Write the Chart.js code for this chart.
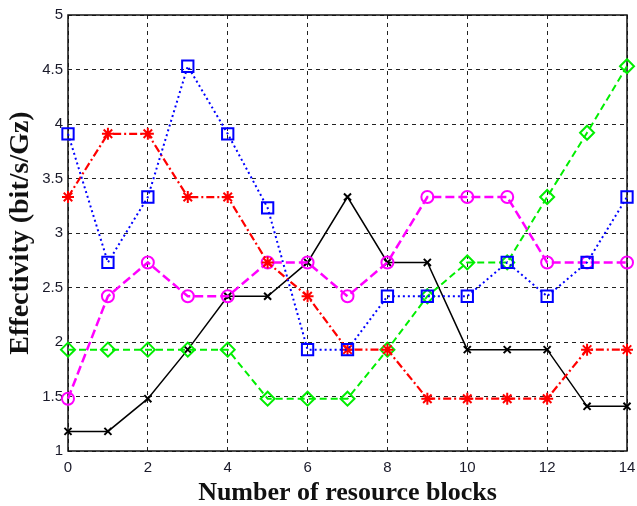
<!DOCTYPE html>
<html>
<head>
<meta charset="utf-8">
<script src="https://cdn.jsdelivr.net/npm/chart.js@4/dist/chart.umd.min.js"></script>
<style>
  html, body { margin: 0; padding: 0; background: #fff; }
  #wrap { width: 637px; height: 506px; position: relative; }
</style>
</head>
<body>
<div id="wrap"><canvas id="chart"></canvas></div>
<script>
/* x axis: number of resource blocks */
const blocks   = [0, 1, 2, 3, 4, 5, 6, 7, 8, 9, 10, 11, 12, 13, 14];

/* series, bit/s/Gz */
const effBlue    = [3.91, 2.73, 3.33, 4.53, 3.91, 3.23, 1.93, 1.93, 2.42, 2.42, 2.42, 2.73, 2.42, 2.73, 3.33];
const effRed     = [3.33, 3.91, 3.91, 3.33, 3.33, 2.73, 2.42, 1.93, 1.93, 1.48, 1.48, 1.48, 1.48, 1.93, 1.93];
const effMagenta = [1.48, 2.42, 2.73, 2.42, 2.42, 2.73, 2.73, 2.42, 2.73, 3.33, 3.33, 3.33, 2.73, 2.73, 2.73];
const effGreen   = [1.93, 1.93, 1.93, 1.93, 1.93, 1.48, 1.48, 1.48, 1.93, 2.42, 2.73, 2.73, 3.33, 3.92, 4.53];
const effBlack   = [1.18, 1.18, 1.48, 1.93, 2.42, 2.42, 2.73, 3.33, 2.73, 2.73, 1.93, 1.93, 1.93, 1.41, 1.41];

const xTitle = 'Number of resource blocks';
const yTitle = 'Effectivity (bit/s/Gz)';

const pts = (ys) => ys.map((y, i) => ({ x: blocks[i], y: y }));

function series(ys, color, style, radius, dash, width) {
  return {
    data: pts(ys),
    borderColor: color,
    backgroundColor: 'rgba(0,0,0,0)',
    pointBorderColor: color,
    pointBackgroundColor: 'rgba(0,0,0,0)',
    pointStyle: style,
    pointRadius: radius,
    pointBorderWidth: 2,
    borderWidth: width,
    borderDash: dash,
    tension: 0,
    clip: false,
  };
}

/* solid frame around the plot area */
const frame = {
  id: 'frame',
  beforeDatasetsDraw(chart) {
    const a = chart.chartArea, ctx = chart.ctx;
    ctx.save();
    ctx.strokeStyle = '#111';
    ctx.lineWidth = 1.5;
    ctx.setLineDash([]);
    ctx.strokeRect(a.left, a.top, a.right - a.left, a.bottom - a.top);
    ctx.restore();
  },
};

const tickFont = { family: '"Liberation Sans", Arial, sans-serif', size: 15 };
const serif    = '"Liberation Serif", "Times New Roman", serif';

new Chart(document.getElementById('chart'), {
  type: 'line',
  data: {
    datasets: [
      series(effBlue,    '#0000ff', 'rect',     8, [2, 3],        2),
      series(effRed,     '#ff0000', 'star',     6, [8, 3, 2, 3],  2.2),
      series(effMagenta, '#ff00ff', 'circle',   6, [9, 4],        2.5),
      series(effGreen,   '#00ee00', 'rectRot',  7, [7, 4],        2),
      series(effBlack,   '#000000', 'crossRot', 5, [],            1.5),
    ],
  },
  options: {
    responsive: true,
    maintainAspectRatio: false,
    animation: false,
    layout: { padding: { top: 15, right: 0, left: 0, bottom: 0 } },
    plugins: { legend: { display: false }, tooltip: { enabled: false } },
    scales: {
      x: {
        type: 'linear',
        min: 0, max: 14,
        ticks: { stepSize: 2, color: '#1a1a2a', font: tickFont, padding: 8, maxRotation: 0 },
        grid: { color: '#222', lineWidth: 1, drawTicks: false },
        border: { display: false, dash: [4, 4] },
        title: { display: true, text: xTitle, color: '#111',
                 font: { family: serif, size: 26, weight: 'bold', lineHeight: 1 },
                 padding: { top: 0, bottom: 0 } },
        afterFit(scale) {
          scale.height = 55;
          scale.paddingRight = 8;   /* let the "14" label hang to the window edge */
        },
      },
      y: {
        min: 1, max: 5,
        ticks: { stepSize: 0.5, color: '#1a1a2a', font: tickFont, padding: 5,
                 callback: (v) => String(Number(v)) },
        grid: { color: '#222', lineWidth: 1, drawTicks: false },
        border: { display: false, dash: [4, 4] },
        title: { display: true, text: yTitle, color: '#111',
                 font: { family: serif, size: 28, weight: 'bold', lineHeight: 1 },
                 padding: { top: 7, bottom: 0 } },
        afterFit(scale) { scale.width = 68; },
      },
    },
  },
  plugins: [frame],
});
</script>
</body>
</html>
